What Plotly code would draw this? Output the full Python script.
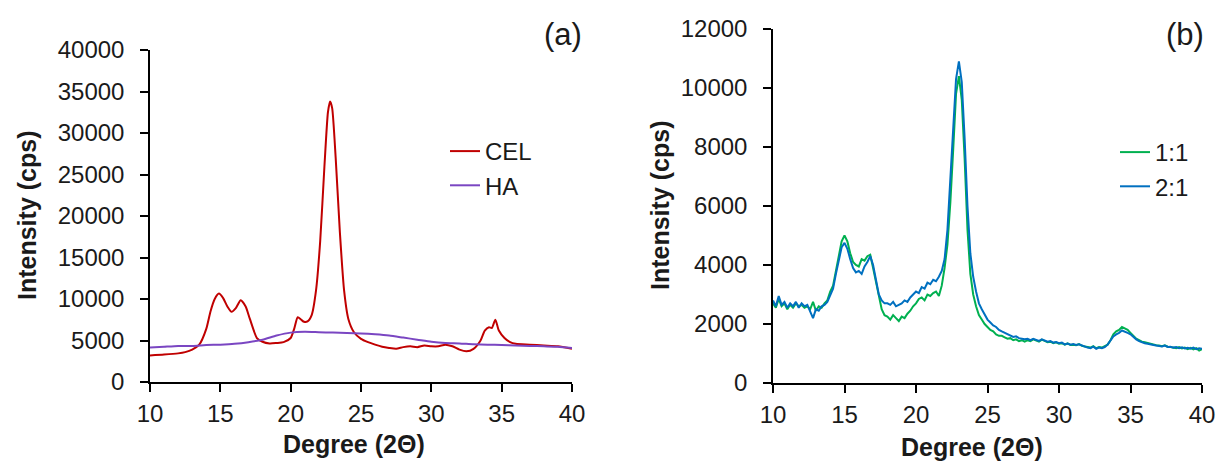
import plotly.graph_objects as go

# ---------------- Data ----------------
# Panel (a)
cel_x = [10, 11, 12, 12.5, 13, 13.5, 14, 14.3, 14.6, 14.9, 15.2, 15.5, 15.8, 16.1, 16.45,
         16.8, 17.1, 17.6, 18, 18.5, 19, 19.5, 20, 20.25, 20.5, 20.75, 20.95, 21.2, 21.5,
         21.8, 22.1, 22.4, 22.65, 22.8, 22.95, 23.2, 23.5, 23.8, 24.1, 24.5, 25, 25.5, 26,
         26.5, 27, 27.5, 28, 28.5, 29, 29.5, 30, 30.5, 31, 31.5, 32, 32.5, 33, 33.5, 33.8,
         34.1, 34.3, 34.55, 34.8, 35.2, 35.6, 36, 37, 38, 39, 40]
cel_y = [3200, 3300, 3450, 3600, 3900, 4500, 6400, 8500, 10000, 10650, 10100, 9100, 8450, 8900, 9850,
         9100, 7600, 5300, 4850, 4650, 4700, 4800, 5300, 6400, 7800, 7500, 7250, 7300, 8100,
         11000, 17000, 26000, 32500, 33800, 33000, 27000, 18000, 11000, 7600, 6000, 5200, 4800, 4500,
         4250, 4100, 4000, 4200, 4300, 4200, 4400, 4300, 4300, 4500, 4300, 3900, 3700, 4000, 5000, 6200,
         6600, 6500, 7500, 6200, 5300, 4800, 4600, 4500, 4400, 4300, 4000]

ha_x = [10, 11, 12, 13, 14, 15, 16, 17, 18, 19, 20, 21, 22, 23, 24, 25, 26, 27, 28, 29,
        30, 31, 32, 33, 34, 35, 36, 37, 38, 39, 40]
ha_y = [4150, 4250, 4350, 4350, 4450, 4500, 4600, 4800, 5100, 5600, 5950, 6050, 6000, 5950, 5900, 5850,
        5750, 5600, 5350, 5100, 4850, 4700, 4650, 4550, 4500, 4450, 4400, 4350, 4300, 4250, 4100]

# Panel (b): 2-theta from 10 to 40 in 0.2 degree steps
b_x = [round(10 + 0.2 * i, 1) for i in range(151)]
ratio11_y = [
    2700, 2550, 2850, 2600, 2700,
    2500, 2650, 2550, 2700, 2600,
    2650, 2550, 2600, 2500, 2750,
    2450, 2600, 2550, 2700, 2800,
    3100, 3300, 3800, 4300, 4800,
    5000, 4800, 4400, 4100, 4000,
    3950, 4200, 4150, 4300, 4350,
    3900, 3400, 2900, 2500, 2300,
    2250, 2150, 2300, 2200, 2100,
    2250, 2200, 2350, 2450, 2600,
    2700, 2850, 2900, 2800, 3000,
    2950, 3050, 3100, 2950, 3300,
    3900, 4700, 6100, 7900, 9800,
    10400, 9600, 7600, 5200, 3700,
    3000, 2600, 2300, 2150, 2000,
    1900, 1800, 1750, 1650, 1600,
    1600, 1550, 1500, 1520, 1450,
    1480, 1420, 1450, 1400, 1450,
    1420, 1480, 1450, 1400, 1470,
    1420, 1380, 1400, 1350, 1380,
    1330, 1350, 1300, 1340, 1290,
    1300, 1280, 1320, 1260, 1240,
    1230, 1200, 1250, 1180, 1220,
    1200, 1250, 1300, 1450, 1650,
    1750, 1800, 1900, 1850, 1800,
    1700, 1600, 1500, 1450, 1400,
    1380, 1350, 1320, 1300, 1280,
    1270, 1250, 1280, 1230, 1220,
    1210, 1180, 1220, 1170, 1200,
    1150, 1190, 1140, 1180, 1100,
    1150]
ratio21_y = [
    2800, 2600, 2950, 2650, 2750,
    2550, 2700, 2600, 2750, 2550,
    2700, 2600, 2650, 2450, 2200,
    2500, 2450, 2600, 2650, 2750,
    2950, 3200, 3700, 4200, 4600,
    4750, 4550, 4200, 3900, 3750,
    3800, 3700, 3950, 4100, 4300,
    4000, 3500, 3000, 2800, 2700,
    2700, 2650, 2750, 2600, 2650,
    2700, 2800, 2750, 2900, 3000,
    3100, 3050, 3250, 3200, 3400,
    3350, 3500, 3450, 3600, 3800,
    4200, 5200, 6800, 8600, 10300,
    10900, 10200, 8300, 6000, 4400,
    3600, 3100, 2700, 2500, 2300,
    2150, 2050, 1950, 1900, 1800,
    1750, 1700, 1650, 1620, 1560,
    1580, 1520, 1500, 1480, 1500,
    1450, 1500, 1470, 1430, 1480,
    1440, 1400, 1420, 1370, 1390,
    1350, 1370, 1310, 1340, 1300,
    1320, 1290, 1310, 1270, 1230,
    1200, 1180, 1230, 1160, 1200,
    1180, 1220, 1300, 1420, 1580,
    1650, 1700, 1780, 1750, 1700,
    1650, 1550, 1480, 1420, 1380,
    1350, 1330, 1300, 1290, 1270,
    1260, 1240, 1270, 1220, 1230,
    1200, 1220, 1180, 1210, 1170,
    1190, 1160, 1200, 1150, 1180,
    1160]

x_ticks = [10, 15, 20, 25, 30, 35, 40]
a_y_ticks = [0, 5000, 10000, 15000, 20000, 25000, 30000, 35000, 40000]
b_y_ticks = [0, 2000, 4000, 6000, 8000, 10000, 12000]

# ---------------- Figure ----------------
W, H = 1219, 461
FONT = "Liberation Sans, Arial, sans-serif"
TXT = "#1a1a1a"

fig = go.Figure()
fig.add_trace(go.Scatter(x=cel_x, y=cel_y, name="CEL", mode="lines",
                         line=dict(color="#C00000", width=2, shape="spline", smoothing=0.6),
                         xaxis="x", yaxis="y", legend="legend"))
fig.add_trace(go.Scatter(x=ha_x, y=ha_y, name="HA", mode="lines",
                         line=dict(color="#7A46C2", width=2, shape="spline", smoothing=0.6),
                         xaxis="x", yaxis="y", legend="legend"))
fig.add_trace(go.Scatter(x=b_x, y=ratio11_y, name="1:1", mode="lines",
                         line=dict(color="#00B050", width=2),
                         xaxis="x2", yaxis="y2", legend="legend2"))
fig.add_trace(go.Scatter(x=b_x, y=ratio21_y, name="2:1", mode="lines",
                         line=dict(color="#0070C0", width=2),
                         xaxis="x2", yaxis="y2", legend="legend2"))

def px_x(v):
    return v / W

def px_y(v):
    return 1 - v / H

axis_common = dict(showgrid=False, zeroline=False, showline=True, linecolor="#000000",
                   linewidth=1.5, ticks="outside", ticklen=8, tickwidth=1.5, tickcolor="#000000",
                   tickfont=dict(family=FONT, size=24, color=TXT),
                   automargin=False, tickformat="d")

fig.update_layout(
    width=W, height=H,
    margin=dict(l=0, r=0, t=0, b=0, autoexpand=False),
    paper_bgcolor="white", plot_bgcolor="white",
    font=dict(family=FONT, color=TXT),
    xaxis=dict(domain=[px_x(150), px_x(572)], range=[10, 40], tickvals=x_ticks,
               anchor="y", ticklabelstandoff=1, **axis_common),
    yaxis=dict(domain=[px_y(382), px_y(50)], range=[0, 40000], tickvals=a_y_ticks,
               anchor="x", ticklabelstandoff=11, **axis_common),
    xaxis2=dict(domain=[px_x(773), px_x(1202)], range=[10, 40], tickvals=x_ticks,
                anchor="y2", ticklabelstandoff=1, **axis_common),
    yaxis2=dict(domain=[px_y(383), px_y(29)], range=[0, 12000], tickvals=b_y_ticks,
                anchor="x2", ticklabelstandoff=11, **axis_common),
    legend=dict(x=px_x(445), y=px_y(129), xanchor="left", yanchor="top",
                font=dict(family=FONT, size=24, color=TXT), itemwidth=30,
                bgcolor="rgba(0,0,0,0)", tracegroupgap=0),
    legend2=dict(x=px_x(1115), y=px_y(130), xanchor="left", yanchor="top",
                 font=dict(family=FONT, size=24, color=TXT), itemwidth=30,
                 bgcolor="rgba(0,0,0,0)", tracegroupgap=0),
    showlegend=True,
)

ann_font_title = dict(family=FONT, size=25, color=TXT)
annotations = [
    dict(text="<b>Intensity (cps)</b>", x=px_x(27), y=px_y(216), textangle=-90, font=ann_font_title),
    dict(text="<b>Intensity (cps)</b>", x=px_x(660), y=px_y(206), textangle=-90, font=ann_font_title),
    dict(text="<b>Degree (2\u0398)</b>", x=px_x(354), y=px_y(444), font=ann_font_title),
    dict(text="<b>Degree (2\u0398)</b>", x=px_x(972), y=px_y(447), font=ann_font_title),
    dict(text="(a)", x=px_x(563), y=px_y(34), font=dict(family=FONT, size=31, color=TXT)),
    dict(text="(b)", x=px_x(1185), y=px_y(34), font=dict(family=FONT, size=31, color=TXT)),
]
for a in annotations:
    a.update(xref="paper", yref="paper", showarrow=False, xanchor="center", yanchor="middle")
fig.update_layout(annotations=annotations)

fig.write_html("out.html", config={"displayModeBar": False},
               post_script="document.body.style.margin='0';document.body.style.overflow='hidden';")
